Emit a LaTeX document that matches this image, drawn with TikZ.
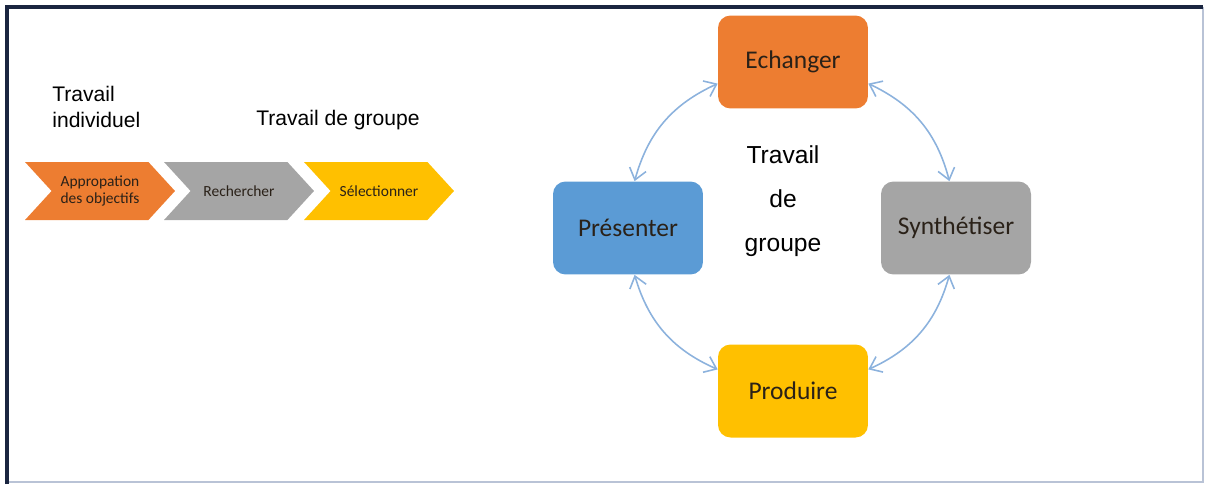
\documentclass[tikz,border=0pt]{standalone}
\usepackage{fontspec}
\setmainfont{Liberation Sans}
\newfontfamily\calibrifont{Carlito}
\usetikzlibrary{shapes.symbols,arrows.meta}
\definecolor{cOrange}{HTML}{ED7D31}
\definecolor{cBlue}{HTML}{5B9BD5}
\definecolor{cGrey}{HTML}{A5A5A5}
\definecolor{cYellow}{HTML}{FFC000}
\definecolor{cLink}{HTML}{8CB2DD}
\definecolor{cFrameDark}{HTML}{1A2540}
\definecolor{cFrameLight}{HTML}{B9C3D6}
\definecolor{cInk}{HTML}{2A2118}
\tikzset{
  stage/.style={signal, signal to=east, signal from=west, signal pointer angle=95,
    minimum width=3cm, minimum height=1.16cm, inner sep=0pt, align=center,
    text=cInk, font=\calibrifont\fontsize{8.8}{9.8}\selectfont},
  task/.style={rectangle, rounded corners=0.25cm, minimum width=3cm, minimum height=1.86cm,
    text=cInk, font=\calibrifont\fontsize{14.5}{17}\selectfont},
  link/.style={draw=cLink, line width=0.9pt,
    {Straight Barb[length=2.2mm,width=3.4mm]}-{Straight Barb[length=2.2mm,width=3.4mm]}},
}

\begin{document}
\begin{tikzpicture}[x=0.02cm,y=-0.02cm]
  \useasboundingbox (0,0) rectangle (1206,484);
  % frame
  \draw[cFrameLight, line width=1pt] (1203,7) -- (1203,482) -- (7,482);
  \draw[cFrameDark, line width=2.2pt] (7,484) -- (7,7) -- (1203,7);

  % left part
  \node[anchor=north west, align=left, inner sep=0pt, font=\fontsize{12}{15}\selectfont] (indiv) at (52,86) {Travail\\individuel};
  \node[anchor=base west, inner sep=0pt, font=\fontsize{12}{15}\selectfont] (groupe) at (256,125) {Travail de groupe};

  \node[stage, fill=cOrange] (approp)    at (100,191) {Appropation\\des objectifs};
  \node[stage, fill=cGrey]   (recherche) at (239,191) {Rechercher};
  \node[stage, fill=cYellow] (select)    at (379,191) {Sélectionner};

  % right part
  \node[task, fill=cOrange] (echanger)  at (793,62)  {Echanger};
  \node[task, fill=cBlue]   (presenter) at (628,228) {Présenter};
  \node[task, fill=cGrey]   (synth)     at (956,228) {Synthétiser};
  \node[task, fill=cYellow] (produire)  at (793,391) {Produire};

  \node[align=center, font=\fontsize{14}{25}\selectfont] (centre) at (783,201) {Travail\\de\\groupe};

  \draw[link] (echanger.196) to [bend right=25] (presenter.82);
  \draw[link] (echanger.-16) to [bend left=25]  (synth.98);
  \draw[link] (presenter.-82) to [bend right=25] (produire.164);
  \draw[link] (synth.-98) to [bend left=25]     (produire.16);
\end{tikzpicture}
\end{document}
